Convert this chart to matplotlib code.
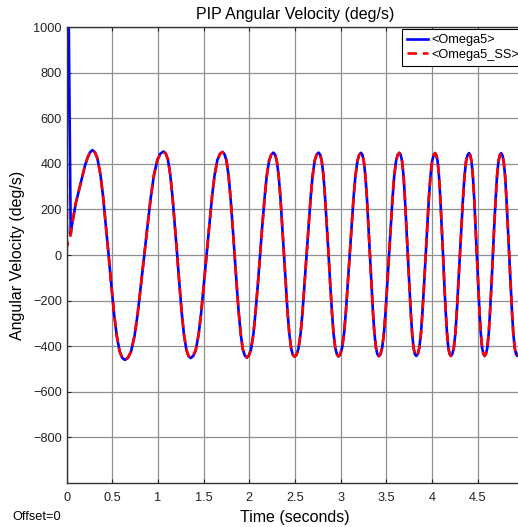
import matplotlib.pyplot as plt
import numpy as np

plt.rcParams['font.family'] = ['Liberation Sans', 'DejaVu Sans']

# values (time in s, angular velocity in deg/s)
# start transient, different for each signal
t_omega5_start = [0.0, 0.016]
v_omega5_start = [500, 1300]
t_ss_start = [0.0, 0.004]
v_ss_start = [535, 40]

# from t=0.044 on both signals lie on top of each other
t_common = [0.044, 0.055, 0.070, 0.100, 0.150, 0.200, 0.230, 0.255,
            0.280, 0.309, 0.337, 0.369, 0.398, 0.430, 0.459, 0.487, 0.519, 0.548, 0.580, 0.608,
            0.637, 0.671, 0.705, 0.743, 0.777, 0.815, 0.849, 0.883, 0.921, 0.955, 0.993, 1.027,
            1.061, 1.085, 1.109, 1.135, 1.159, 1.186, 1.210, 1.233, 1.260, 1.284, 1.311, 1.334,
            1.358, 1.386, 1.414, 1.445, 1.473, 1.504, 1.532, 1.560, 1.591, 1.619, 1.650, 1.678,
            1.706, 1.727, 1.749, 1.773, 1.794, 1.818, 1.839, 1.860, 1.884, 1.906, 1.929, 1.951,
            1.972, 1.995, 2.019, 2.045, 2.068, 2.095, 2.118, 2.141, 2.168, 2.191, 2.217, 2.241,
            2.264, 2.283, 2.301, 2.322, 2.341, 2.361, 2.380, 2.399, 2.419, 2.438, 2.459, 2.477,
            2.496, 2.517, 2.538, 2.562, 2.583, 2.606, 2.627, 2.648, 2.672, 2.693, 2.716, 2.737,
            2.758, 2.776, 2.793, 2.813, 2.830, 2.850, 2.868, 2.885, 2.905, 2.922, 2.942, 2.960,
            2.977, 2.997, 3.016, 3.039, 3.058, 3.080, 3.100, 3.120, 3.142, 3.162, 3.184, 3.203,
            3.223, 3.239, 3.254, 3.272, 3.288, 3.305, 3.321, 3.337, 3.354, 3.370, 3.388, 3.403,
            3.419, 3.437, 3.455, 3.475, 3.493, 3.513, 3.531, 3.549, 3.569, 3.587, 3.607, 3.625,
            3.643, 3.658, 3.673, 3.690, 3.704, 3.721, 3.736, 3.751, 3.768, 3.783, 3.799, 3.814,
            3.829, 3.846, 3.862, 3.881, 3.897, 3.916, 3.932, 3.949, 3.967, 3.984, 4.002, 4.019,
            4.035, 4.049, 4.063, 4.078, 4.092, 4.108, 4.122, 4.135, 4.151, 4.165, 4.180, 4.194,
            4.208, 4.224, 4.240, 4.258, 4.273, 4.291, 4.307, 4.323, 4.341, 4.357, 4.374, 4.390,
            4.406, 4.420, 4.434, 4.449, 4.463, 4.478, 4.492, 4.506, 4.521, 4.535, 4.550, 4.564,
            4.578, 4.592, 4.607, 4.623, 4.637, 4.654, 4.668, 4.682, 4.699, 4.713, 4.729, 4.744,
            4.758, 4.772, 4.786, 4.802, 4.816, 4.832, 4.847, 4.861, 4.877, 4.891, 4.907, 4.921,
            4.935, 4.950, 4.965, 4.981, 4.996, 5.013]
v_common = [90, 125, 160, 228, 310, 392, 428, 450,
            460, 451, 423, 354, 258, 124, 0, -124, -258, -354, -423, -451,
            -460, -451, -423, -355, -259, -126, -3, 120, 253, 349, 417, 445,
            454, 445, 418, 350, 255, 123, 1, -121, -253, -348, -416, -443,
            -452, -443, -416, -348, -253, -122, 0, 122, 253, 348, 416, 443,
            452, 443, 416, 348, 254, 123, 1, -121, -252, -346, -414, -441,
            -450, -441, -414, -347, -252, -122, 0, 122, 252, 347, 414, 441,
            449, 440, 413, 346, 252, 122, 1, -120, -250, -344, -411, -438,
            -446, -438, -411, -344, -250, -120, 1, 122, 252, 346, 413, 440,
            449, 440, 413, 346, 252, 123, 2, -119, -248, -342, -409, -436,
            -445, -435, -408, -341, -248, -118, 2, 122, 252, 345, 412, 439,
            448, 439, 412, 345, 252, 122, 2, -118, -248, -341, -408, -435,
            -444, -435, -408, -341, -248, -118, 2, 122, 252, 345, 412, 439,
            448, 439, 412, 345, 252, 122, 2, -118, -248, -341, -408, -435,
            -443, -434, -407, -341, -247, -118, 2, 122, 251, 345, 411, 438,
            447, 438, 411, 345, 251, 122, 2, -118, -247, -341, -407, -434,
            -443, -434, -407, -341, -247, -118, 2, 122, 251, 345, 411, 438,
            447, 438, 411, 345, 251, 122, 2, -118, -247, -341, -407, -434,
            -443, -434, -407, -341, -247, -118, 2, 122, 251, 345, 411, 438,
            447, 438, 411, 345, 251, 122, 2, -118, -247, -341, -407, -434,
            -443, -434, -407, -341, -247, -118]

x_ticks = [0, 0.5, 1, 1.5, 2, 2.5, 3, 3.5, 4, 4.5]
y_ticks = [-800, -600, -400, -200, 0, 200, 400, 600, 800, 1000]

t5 = np.array(t_omega5_start + t_common)
v5 = np.array(v_omega5_start + v_common)
tss = np.array(t_ss_start + t_common)
vss = np.array(v_ss_start + v_common)

fig = plt.figure(figsize=(5.18, 5.27), dpi=100)
# axes run a little past the right border like in the screenshot
ax = fig.add_axes([66.7 / 518, 44 / 527, 456.5 / 518, 456 / 527])

ax.plot(t5, v5, color='#0000ff', lw=1.9, label='<Omega5>')
ax.plot(tss, vss, color='#ff0000', lw=1.9, ls=(0, (3.6, 2.2)), label='<Omega5_SS>')

ax.set_xlim(0, 5)
ax.set_ylim(-1000, 1000)
ax.set_xticks(x_ticks)
ax.set_xticklabels(['%g' % x for x in x_ticks])
ax.set_yticks(y_ticks)
ax.set_yticklabels([('%d' % y).replace('-', '\u2212') for y in y_ticks])
ax.tick_params(direction='in', top=True, right=True, length=3, width=0.8,
               labelsize=9.2, colors='#222222', pad=6.5)
ax.tick_params(axis='y', pad=3.5)
ax.grid(True, color='#8f8f8f', lw=0.9)
ax.set_axisbelow(True)
for s in ax.spines.values():
    s.set_color('#333333')
    s.set_linewidth(1.0)

ax.set_title('PIP Angular Velocity (deg/s)', fontsize=11.5, pad=6)
ax.set_xlabel('Time (seconds)', fontsize=11.5, labelpad=4)
ax.set_ylabel('Angular Velocity (deg/s)', fontsize=11.5, labelpad=6)

leg = ax.legend(loc='upper left', bbox_to_anchor=(402 / 518, 1 - 29 / 527),
                bbox_transform=fig.transFigure, fontsize=9.2, fancybox=False,
                framealpha=1, edgecolor='black', borderpad=0.4,
                handlelength=1.6, handletextpad=0.3, labelspacing=0.22,
                borderaxespad=0)
leg.get_frame().set_linewidth(0.8)

fig.text(12 / 518, 1 - 517 / 527, 'Offset=0', fontsize=9.2, va='center')

fig.savefig('out.png', dpi=100)
